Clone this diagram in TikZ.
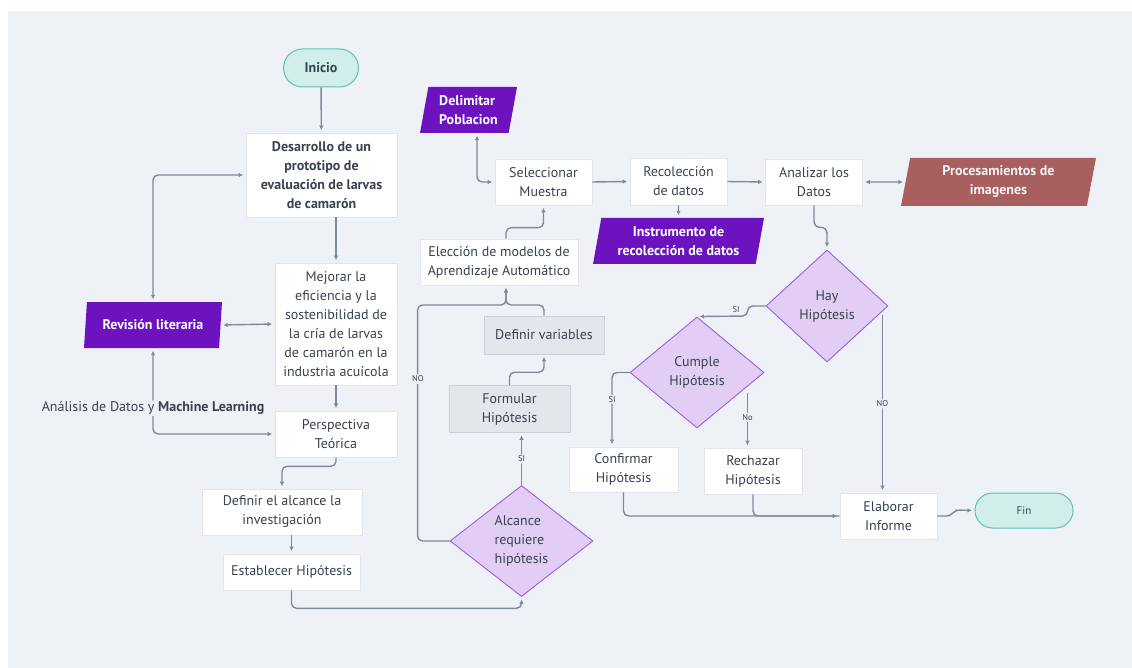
\documentclass[tikz,border=0pt]{standalone}
\usepackage{fontspec}
\setmainfont{PT Sans}
\usetikzlibrary{shapes.geometric,shapes.misc,arrows.meta,calc}

\definecolor{bgc}{HTML}{EEF2F6}
\definecolor{txt}{HTML}{3A4250}
\definecolor{lnc}{HTML}{7D8B99}
\definecolor{boxline}{HTML}{E2E6EB}
\definecolor{grayfill}{HTML}{E3E7EB}
\definecolor{grayline}{HTML}{C8D0D8}
\definecolor{purp}{HTML}{6C12BF}
\definecolor{brown}{HTML}{A85F5F}
\definecolor{diaf}{HTML}{E2CEF4}
\definecolor{diad}{HTML}{9B5DE0}
\definecolor{tealf}{HTML}{D2EEEA}
\definecolor{teald}{HTML}{5CC2B2}

\newcommand{\txtsize}{\fontsize{14}{19}\selectfont}

\begin{document}
\begin{tikzpicture}[x=1pt,y=-1pt,
  every node/.style={font=\txtsize, text=txt},
  box/.style={rectangle, fill=white, draw=boxline, line width=0.6pt, inner sep=0pt, align=center},
  graybox/.style={box, fill=grayfill, draw=grayline},
  para/.style={trapezium, trapezium left angle=74, trapezium right angle=106,
    trapezium stretches body, inner sep=0pt, fill=purp, text=white, align=center,
    font=\bfseries\txtsize},
  dia/.style={diamond, fill=diaf, draw=diad, line width=0.9pt, inner sep=0pt, align=center},
  term/.style={rounded rectangle, fill=tealf, draw=teald, line width=1pt, inner sep=0pt},
  conn/.style={draw=lnc, line width=1.4pt, rounded corners=5pt},
  arr/.style={conn, -{Latex[length=4.5pt,width=4.5pt]}, shorten >=2.5pt},
  darr/.style={conn, {Latex[length=4.5pt,width=4.5pt]}-{Latex[length=4.5pt,width=4.5pt]}, shorten >=2.5pt, shorten <=2.5pt},
  lbl/.style={fill=bgc, inner sep=1.5pt, font=\fontsize{8.5}{9}\selectfont}
]
\useasboundingbox (0,0) rectangle (1132,668);
\fill[white] (0,0) rectangle (1132,668);
\fill[bgc] (8,11) rectangle (1132,668);

% ---- left column ----
\node[term, minimum width=75pt, minimum height=38pt] (ini) at (321,68) {\bfseries Inicio};
\node[box, minimum width=151pt, minimum height=84pt, font=\bfseries\txtsize] (des) at (321.5,175)
  {Desarrollo de un\\prototipo de\\evaluación de larvas\\de camarón};
\node[box, minimum width=122pt, minimum height=122pt] (mej) at (336,324)
  {Mejorar la\\eficiencia y la\\sostenibilidad de\\la cría de larvas\\de camarón en la\\industria acuícola};
\node[para, minimum width=138pt, minimum height=46pt] (rev) at (153,325) {Revisión literaria};
\node[box, minimum width=122pt, minimum height=46pt] (per) at (336,434) {Perspectiva\\Teórica};
\node[box, minimum width=160pt, minimum height=46pt] (def) at (282,512) {Definir el alcance la\\investigación};
\node[box, minimum width=137pt, minimum height=36pt] (est) at (291.5,572) {Establecer Hipótesis};

% ---- middle column ----
\node[dia, minimum width=143pt, minimum height=111pt, align=left] (alc) at (521.5,541) {Alcance\\requiere\\hipótesis};
\node[graybox, minimum width=121pt, minimum height=47pt] (form) at (509.5,409) {Formular\\Hipótesis};
\node[graybox, minimum width=120pt, minimum height=38pt] (defv) at (544,335) {Definir variables};
\node[box, minimum width=158pt, minimum height=46pt] (ele) at (499,262) {Elección de modelos de\\Aprendizaje Automático};
\node[box, minimum width=97pt, minimum height=46pt] (sel) at (543.5,182) {Seleccionar\\Muestra};
\node[para, minimum width=97pt, minimum height=46pt, align=left] (del) at (468.5,110) {Delimitar\\Poblacion};
\node[box, minimum width=97pt, minimum height=47pt] (rec) at (678.5,181.5) {Recolección\\de datos};
\node[para, minimum width=171pt, minimum height=46pt] (ins) at (678.5,241) {Instrumento de\\recolección de datos};
\node[box, minimum width=97pt, minimum height=46pt] (ana) at (814,182) {Analizar los\\Datos};
\node[para, minimum width=195pt, minimum height=48pt, fill=brown, text=white!92!brown] (pro) at (998.5,182) {Procesamientos de\\imagenes};

% ---- decisions and results ----
\node[dia, minimum width=122pt, minimum height=112pt] (hay) at (827,306) {Hay\\Hipótesis};
\node[dia, minimum width=134pt, minimum height=111pt] (cum) at (697,372.5) {Cumple\\Hipótesis};
\node[box, minimum width=109pt, minimum height=45pt] (con) at (623.5,469.5) {Confirmar\\Hipótesis};
\node[box, minimum width=98pt, minimum height=46pt] (rej) at (753,471) {Rechazar\\Hipótesis};
\node[box, minimum width=97pt, minimum height=46pt] (ela) at (888.5,516) {Elaborar\\Informe};
\node[term, minimum width=98pt, minimum height=35pt, font=\fontsize{11}{12}\selectfont] (fin) at (1024,510.5) {Fin};

\coordinate (join) at (506,305);

% ---- connectors ----
\draw[arr] (ini) -- (des);
\draw[arr] (des.south -| mej.north) -- (mej.north);
\draw[darr] (rev.north) |- (des.west);
\draw[darr] (rev.east) -- (mej.west);
\draw[arr] (mej.south) -- (per.north);
\draw[darr] (rev.south) |- (per.west)
  node[pos=0.35, fill=bgc, inner sep=1pt] (aml) {Análisis de Datos y \textbf{Machine Learning}};
\draw[arr] (per.south) -- ++(0,9) -| (def.north);
\draw[arr] (def.south -| est.north) -- (est.north);
\draw[arr] (est.south) -- ++(0,18) -| (alc.south);

\draw[arr] (alc.north) -- (alc.north |- form.south) node[lbl, pos=0.5] {SI};
\draw[arr] (form.north) -- ++(0,-13) -| (defv.south);
\draw[arr] (defv.north) |- (join) -- (ele.south -| join);
\draw[arr] (alc.west) -- ++(-32,0) |- (join) -- (ele.south -| join);
\node[lbl] (nolbl) at (418,379) {NO};
\draw[arr] (ele.north -| join) -- ++(0,-11) -| (sel.south);
\draw[darr] ($(del.center |- del.south)+(8.5,0)$) |- (sel.west);
\draw[arr] (sel.east) -- (rec.west);
\draw[arr] (rec.south) -- (ins.north);
\draw[arr] (rec.east) -- (ana.west);
\draw[darr] (ana.east) -- (pro.west);
\draw[arr, rounded corners=6pt] (ana.south) -- ++(0,22) -| (hay.north);

\draw[arr] (hay.west) -- ++(-18,0) -- ++(0,10) -- (cum.north);
\node[lbl] (silbl) at (736,310) {SI};
\draw[arr] (cum.west) -| ($(con.north)+(-11.5,0)$) node[lbl, pos=0.68] {SI};
\draw[arr] ($(cum.east)+(-17,20)$) coordinate (cn) -- (cn |- rej.north) node[lbl, pos=0.45] {No};
\draw[arr] (con.south) |- (ela.west);
\draw[conn] (rej.south) |- (ela.west);
\draw[arr] ($(hay.east)+(-6,9)$) coordinate (hn) -- (hn |- ela.north) node[lbl, pos=0.5] {NO};
\draw[arr, rounded corners=4pt] (ela.east) -- ++(13,0) -- ++(5,-6) -- (fin.west);
\end{tikzpicture}
\end{document}
